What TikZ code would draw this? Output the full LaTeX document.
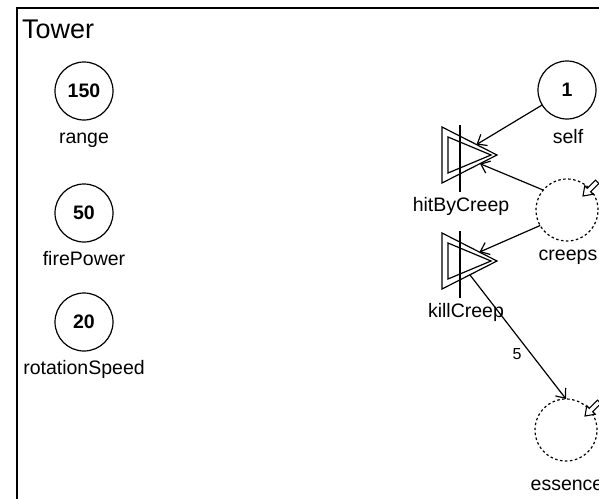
\documentclass[tikz,border=0pt]{standalone}
\usepackage{fontspec}
\setmainfont{Liberation Sans}
\usetikzlibrary{shapes.geometric,arrows.meta,calc}
\begin{document}
\begin{tikzpicture}[x=1pt,y=-1pt,
  every node/.style={inner sep=0pt, outer sep=0pt},
  lbl/.style={font=\fontsize{19.5}{22}\selectfont, anchor=base},
  place/.style={circle, draw, line width=1.2pt, minimum size=58pt, font=\bfseries\fontsize{19.5}{22}\selectfont},
  emptyplace/.style={circle, draw, line width=1.2pt, dash pattern=on 2.5pt off 2.5pt, minimum size=62pt},
  trans/.style={isosceles triangle, isosceles triangle stretches, draw, line width=1.2pt, minimum width=56pt, minimum height=55pt, shape border rotate=0, anchor=lower side},
  inner/.style={line width=1.2pt},
  arc/.style={line width=1.2pt, -{Straight Barb[length=8pt,width=13pt]}},
  pics/hollowarrow/.style={code={\draw[line width=1.1pt, fill=white] (0,0) -- (-8.5,6) -- (-8.5,2.4) -- (-20,2.4) -- (-20,-2.4) -- (-8.5,-2.4) -- (-8.5,-6) -- cycle;}}
]
\useasboundingbox (0,0) rectangle (599,498);
\clip (0,0) rectangle (599,498);
\draw[line width=1.3pt] (17,8) rectangle (660,570);
\node[font=\fontsize{27}{32}\selectfont, anchor=base west] (title) at (22,38) {Tower};

\node[place] (range) at (84,91) {150};
\node[lbl] (rangeL) at (84,143) {range};
\node[place] (fire) at (84,213) {50};
\node[lbl] (fireL) at (84,265) {firePower};
\node[place] (rot) at (84,322) {20};
\node[lbl] (rotL) at (84,374) {rotationSpeed};

\node[place] (self) at (567,90) {1};
\node[lbl] (selfL) at (568,143) {self};
\node[emptyplace] (creeps) at (567,210) {};
\node[lbl] (creepsL) at (568,260) {creeps};
\node[emptyplace] (essence) at (566,430) {};
\node[lbl] (essenceL) at (567,490) {essence};

\node[trans] (hit) at (442,155) {};
\draw[inner] ($(hit.lower side)+(6,-18)$) -- ($(hit.lower side)+(49,0)$) -- ($(hit.lower side)+(6,18)$) -- cycle;
\draw[inner] ($(hit.lower side)+(18,-30)$) -- ($(hit.lower side)+(18,37)$);
\node[lbl] (hitL) at (461,211) {hitByCreep};

\node[trans] (kill) at (442,261) {};
\draw[inner] ($(kill.lower side)+(6,-18)$) -- ($(kill.lower side)+(49,0)$) -- ($(kill.lower side)+(6,18)$) -- cycle;
\draw[inner] ($(kill.lower side)+(18,-30)$) -- ($(kill.lower side)+(18,37)$);
\node[lbl] (killL) at (466,317) {killCreep};

\draw[arc] (self) -- (hit);
\draw[arc] (creeps.140) -- (hit);
\draw[arc] (creeps.210) -- (kill);
\draw[arc] (kill) -- node[pos=0.64, anchor=east, xshift=-10pt, font=\fontsize{16}{19}\selectfont] (w5) {5} (essence.north);

\pic[rotate=225] at (583,196) {hollowarrow};
\pic[rotate=225] at (585,416) {hollowarrow};
\end{tikzpicture}
\end{document}
